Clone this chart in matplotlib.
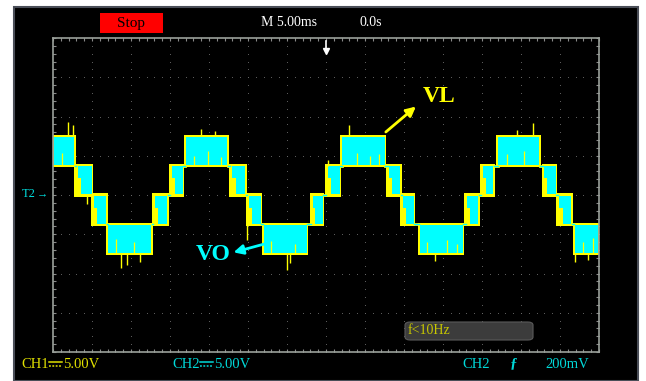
import numpy as np
import matplotlib.pyplot as plt
from matplotlib.patches import Rectangle, FancyBboxPatch
from matplotlib.lines import Line2D

# scope settings: 5 ms/div (14 div), 5 V/div (8 div), trigger at t = 0
# PWM bands of the 5-level output, each band switches between lo and hi
band_start = [-35.0, -32.1, -30.0, -28.0, -22.2, -20.0,
              -18.1, -12.3, -10.1, -8.1, -1.9, 0.0,
              2.0, 7.9, 9.7, 11.9, 17.9, 19.9,
              22.0, 27.8, 29.7, 31.8]
band_end = [-32.2, -30.0, -28.1, -22.3, -20.3, -18.3,
            -12.6, -10.3, -8.3, -2.4, -0.4, 1.8,
            7.6, 9.6, 11.3, 17.6, 19.6, 21.5,
            27.4, 29.5, 31.5, 35.0]
band_lo = [3.75, 0.0, -3.75, -7.5, -3.75, 0.0] * 3 + [3.75, 0.0, -3.75, -7.5]
band_hi = [7.5, 3.75, 0.0, -3.75, 0.0, 3.75] * 3 + [7.5, 3.75, 0.0, -3.75]

# switching spikes on VL (time ms, from V, to V)
spike_t = [-33.1, -32.4, -26.3, -25.5, -23.9, -10.1, -5.0, 0.3, 3.0, 26.5, 31.9, 33.6,
           -16.0, -14.2, -4.6, 14.0, 24.5, -30.6]
spike_from = [7.5, 7.5, -7.5, -7.5, -7.5, -3.75, -7.5, 3.75, 7.5, 7.5, -7.5, -7.5,
              7.5, 7.5, -7.5, -7.5, 7.5, 0.0]
spike_to = [9.3, 8.9, -9.3, -8.9, -8.5, -5.7, -9.5, 4.5, 8.9, 9.2, -8.5, -8.3,
            8.4, 8.2, -8.6, -8.4, 8.3, -1.2]

# short yellow streaks showing through the cyan trace (time ms, from V, to V)
streak_t = [-33.8, -26.9, -24.6, -16.9, -15.1, -13.4, -7.0, -4.0, 4.0, 5.6, 6.8,
            13.0, 15.5, 16.8, 23.2, 25.4, 33.0, 34.2]
streak_from = [3.75, -7.5, -7.5, 3.75, 3.75, 3.75, -7.5, -7.5, 3.75, 3.75, 3.75,
               -7.5, -7.5, -7.5, 3.75, 3.75, -7.5, -7.5]
streak_to = [5.3, -5.6, -6.0, 5.0, 5.6, 4.9, -5.8, -6.2, 5.4, 5.0, 5.2,
             -6.0, -5.7, -6.2, 5.2, 5.6, -6.0, -5.5]

W, H = 646, 381
YEL = '#ffff00'
CYN = '#00ffff'
SERIF = ['Liberation Serif', 'DejaVu Sans']


def fx(x):
    return x / W


def fy(y):
    return 1 - y / H


def dc_mark(x, y, color):
    # the "DC coupling" sign: solid line over a dashed one
    fig.lines.append(Line2D([fx(x), fx(x + 13)], [fy(y - 2), fy(y - 2)], transform=fig.transFigure,
                            color=color, lw=1.1))
    fig.lines.append(Line2D([fx(x), fx(x + 13)], [fy(y + 1.5), fy(y + 1.5)], transform=fig.transFigure,
                            color=color, lw=1.1, dashes=(1.2, 1.0)))


fig = plt.figure(figsize=(6.46, 3.81), dpi=100)
fig.patch.set_facecolor('white')
fig.patches.append(Rectangle((fx(14), 0), fx(638) - fx(14), fy(7), transform=fig.transFigure,
                             facecolor='black', edgecolor='#4a4e58', lw=1.5, zorder=-5))

ax = fig.add_axes([fx(53), fy(352), fx(599) - fx(53), fy(38) - fy(352)])
ax.set_zorder(2)
ax.set_facecolor('black')
ax.set_xlim(-35, 35)
ax.set_ylim(-20, 20)
for s in ax.spines.values():
    s.set_color('#9aa09a')
    s.set_linewidth(1.2)
ax.set_xticks(np.arange(-35, 35.1, 1))
ax.set_yticks(np.arange(-20, 20.1, 1))
ax.tick_params(direction='in', length=2, width=0.8, color='#8a8a8a',
               top=True, right=True, labelbottom=False, labelleft=False)

# dotted graticule
gx, gy = np.meshgrid(np.arange(-35, 35.1, 5), np.arange(-20, 20.1, 1))
ax.scatter(gx.ravel(), gy.ravel(), s=0.6, color='#6a6a6a', lw=0, zorder=1)
gx, gy = np.meshgrid(np.arange(-35, 35.1, 1), np.arange(-20, 20.1, 5))
ax.scatter(gx.ravel(), gy.ravel(), s=0.6, color='#6a6a6a', lw=0, zorder=1)

n = len(band_start)
# connecting level lines between bands
for i in range(n - 1):
    lvl = band_lo[i] if band_lo[i] in (band_lo[i + 1], band_hi[i + 1]) else band_hi[i]
    ax.plot([band_end[i], band_start[i + 1]], [lvl, lvl], color=YEL, lw=2.0, zorder=2)
    ax.plot([band_end[i], band_start[i + 1]], [lvl, lvl], color=CYN, lw=1.0, zorder=4)

for i in range(n):
    t0, t1, lo, hi = band_start[i], band_end[i], band_lo[i], band_hi[i]
    d = t1 - t0
    # VL (yellow) underneath, slightly larger
    ax.add_patch(Rectangle((t0 - 0.15, lo - 0.2), d + 0.3, hi - lo + 0.4,
                           facecolor=YEL, edgecolor='none', zorder=2))
    # VO (cyan) on top
    if abs(hi) == 7.5 or abs(lo) == 7.5:
        ax.add_patch(Rectangle((t0 + 0.1, lo + 0.05), d - 0.2, hi - lo - 0.1,
                               facecolor=CYN, edgecolor='none', zorder=3))
    else:
        ax.add_patch(Rectangle((t0 + 0.35 * d, lo + 0.1), 0.62 * d, hi - lo - 0.2,
                               facecolor=CYN, edgecolor='none', zorder=3))
        ax.add_patch(Rectangle((t0 + 0.12 * d, hi - 1.6), 0.3 * d, 1.5,
                               facecolor=CYN, edgecolor='none', zorder=3))

ax.vlines(streak_t, streak_from, streak_to, color=YEL, lw=0.9, zorder=4)
ax.vlines(spike_t, spike_from, spike_to, color=YEL, lw=1.0, zorder=5)

# annotations
ax.annotate('', xy=(11.8, 11.5), xytext=(7.4, 7.8),
            arrowprops=dict(arrowstyle='-|>', color=YEL, lw=2, mutation_scale=14), zorder=6)
ax.annotate('', xy=(-12.2, -7.4), xytext=(-7.0, -6.0),
            arrowprops=dict(arrowstyle='-|>', color=CYN, lw=2, mutation_scale=14), zorder=6)
ax.text(fx(439), fy(97), 'VL', color=YEL, fontsize=17, fontweight='bold', transform=fig.transFigure,
        family=SERIF, ha='center', va='center', zorder=7)
ax.text(fx(213), fy(254), 'VO', color=CYN, fontsize=17, fontweight='bold', transform=fig.transFigure,
        family=SERIF, ha='center', va='center', zorder=7)

# trigger position marker
ax.plot([0, 0], [19.6, 18.6], color='white', lw=1.2, zorder=6, clip_on=False)
ax.plot([0], [18.4], marker='v', color='white', ms=4, zorder=6, clip_on=False)

# top status bar
fig.patches.append(Rectangle((fx(100), fy(33)), fx(163) - fx(100), fy(13) - fy(33),
                             transform=fig.transFigure, facecolor='#ff0000', edgecolor='none'))
fig.text(fx(131), fy(23), 'Stop', color='black', fontsize=11, family=SERIF, ha='center', va='center')
fig.text(fx(289), fy(22), 'M 5.00ms', color='white', fontsize=10, family=SERIF, ha='center', va='center')
fig.text(fx(371), fy(22), '0.0s', color='white', fontsize=10, family=SERIF, ha='center', va='center')

# channel ground marker
fig.text(fx(22), fy(194), 'T2', color='#00e0e0', fontsize=9, family=SERIF, ha='left', va='center')
fig.text(fx(37), fy(194), '\u2192', color='#00e0e0', fontsize=8, family=SERIF, ha='left', va='center')

# bottom status bar
fig.text(fx(21), fy(364), 'CH1', color='#e0e000', fontsize=10.5, family=SERIF, va='center')
dc_mark(49, 364, '#e0e000')
fig.text(fx(63), fy(364), '5.00V', color='#e0e000', fontsize=10.5, family=SERIF, va='center')
fig.text(fx(172), fy(364), 'CH2', color='#00d8d8', fontsize=10.5, family=SERIF, va='center')
dc_mark(200, 364, '#00d8d8')
fig.text(fx(214), fy(364), '5.00V', color='#00d8d8', fontsize=10.5, family=SERIF, va='center')
fig.text(fx(462), fy(364), 'CH2', color='#00d8d8', fontsize=10.5, family=SERIF, va='center')
fig.text(fx(510), fy(364), '\u0192', color='#00d8d8', fontsize=11, fontweight='bold', family=SERIF, va='center')
fig.text(fx(545), fy(364), '200mV', color='#00d8d8', fontsize=10.5, family=SERIF, va='center')

fig.patches.append(FancyBboxPatch((fx(405), fy(340)), fx(533) - fx(405), fy(322) - fy(340),
                                  boxstyle='round,pad=0,rounding_size=0.008', transform=fig.transFigure,
                                  facecolor='#3c3c3c', edgecolor='#5a5a5a', lw=0.8, zorder=3))
fig.text(fx(408), fy(331), 'f<10Hz', color='#c8c800', fontsize=10, family=SERIF, va='center', zorder=4)

fig.savefig('out.png', dpi=100, facecolor=fig.get_facecolor())
